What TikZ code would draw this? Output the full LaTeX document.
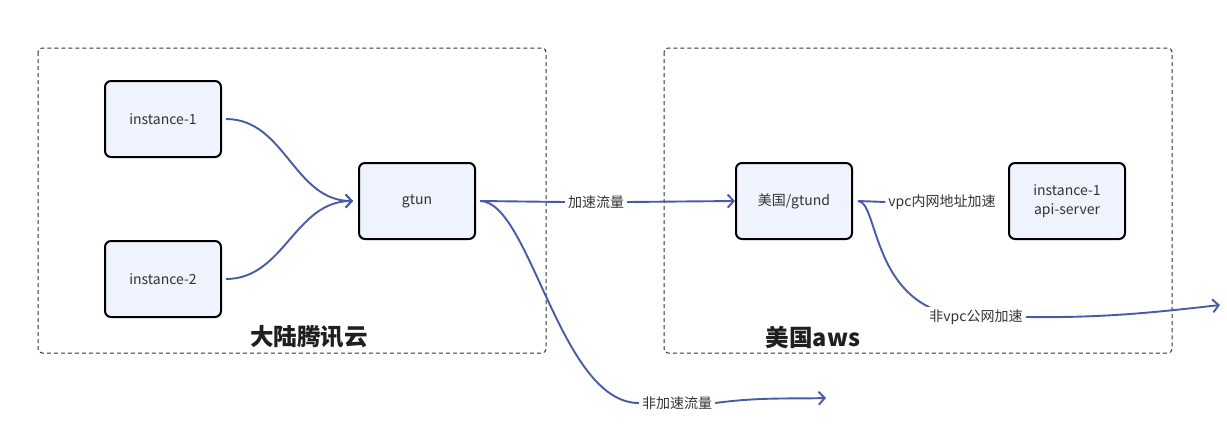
\documentclass[tikz,border=0pt]{standalone}
\usepackage{fontspec}
\setmainfont{Noto Sans CJK SC}
\usetikzlibrary{arrows.meta}
\definecolor{edgec}{HTML}{4A5BA6}
\definecolor{nodefill}{HTML}{EEF3FD}
\definecolor{txt}{HTML}{333333}
\definecolor{ttl}{HTML}{1F1F1F}
\begin{document}
\begin{tikzpicture}[x=1pt,y=-1pt,
  box/.style={draw=black, line width=2pt, rounded corners=6pt, fill=nodefill,
    minimum width=116pt, minimum height=76pt, align=center,
    font=\fontsize{14}{19.5}\selectfont, text=txt},
  region/.style={draw=black!80, dash pattern=on 4pt off 3pt, line width=1pt, rounded corners=4pt},
  conn/.style={draw=edgec, line width=1.9pt},
  tip/.style={-{Straight Barb[length=6pt,width=13pt,line width=1.9pt]}},
  lab/.style={fill=white, font=\fontsize{14}{16}\selectfont, text=txt, inner sep=3pt},
  title/.style={font=\fontsize{23.5}{28}\selectfont\bfseries, text=ttl}
]
\useasboundingbox (0,0) rectangle (1227,447);
\fill[white] (0,0) rectangle (1227,447);

% regions
\draw[region] (38,48) rectangle (546,353);
\draw[region] (664,48) rectangle (1172,353);
\node[title] (t1) at (309,337) {大陆腾讯云};
\node[title] (t2) at (813,337) {美国aws};

% nodes
\node[box] (i1) at (163,119) {instance-1};
\node[box] (i2) at (163,279) {instance-2};
\node[box] (gtun) at (417,201) {gtun};
\node[box] (gtund) at (794,201) {美国/gtund};
\node[box] (api) at (1067,201) {instance-1\\api-server};

% labels
\node[lab] (l1) at (596,202) {加速流量};
\node[lab] (l2) at (677,403) {非加速流量};
\node[lab] (l3) at (942,202) {vpc内网地址加速};
\node[lab] (l4) at (976,317) {非vpc公网加速};
\coordinate (e2) at (826,398);
\coordinate (e4) at (1220,305);

% connectors
\draw[conn,tip] ([xshift=4pt]i1.east) to[out=0,in=180] ([xshift=-5pt]gtun.west);
\draw[conn,tip] ([xshift=4pt]i2.east) to[out=0,in=180] ([xshift=-5pt]gtun.west);
\draw[conn] ([xshift=4pt]gtun.east) -- (l1.west);
\draw[conn,tip] (l1.east) -- (gtund.west);
\draw[conn] ([xshift=4pt]gtun.east) .. controls (530,201) and (560,403) .. (l2.west);
\draw[conn,tip] (l2.east) .. controls (760,397) and (790,399) .. (e2);
\draw[conn] ([xshift=5pt]gtund.east) -- (l3.west);
\draw[conn] ([xshift=5pt]gtund.east) .. controls (880,202) and (870,317) .. (l4.center);
\node[lab] at (l4) {非vpc公网加速};
\draw[conn,tip] (l4.east) .. controls (1100,318) and (1150,313) .. (e4);
\end{tikzpicture}
\end{document}
